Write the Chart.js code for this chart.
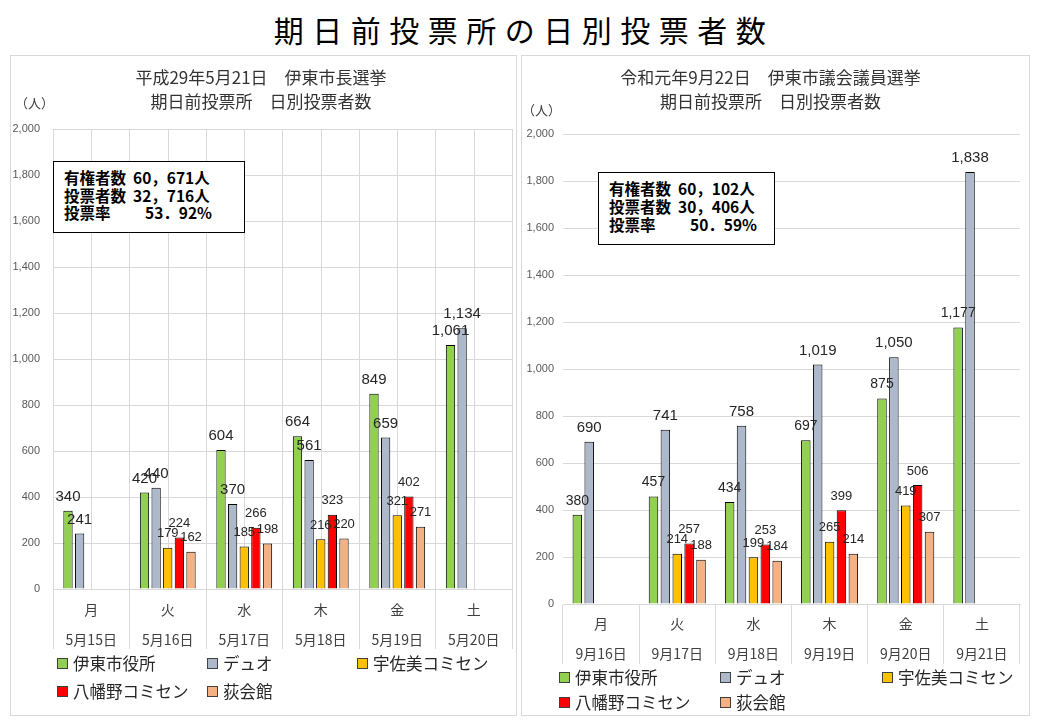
<!DOCTYPE html>
<html lang="ja">
<head>
<meta charset="utf-8">
<script src="https://cdn.jsdelivr.net/npm/chart.js@4.4.1/dist/chart.umd.min.js"></script>
<style>
  html, body { margin:0; padding:0; background:#fff; }
  body { width:1040px; height:720px; position:relative; overflow:hidden; font-family:"Noto Sans CJK JP", sans-serif; }
  #mainTitle { position:absolute; left:0; top:9px; width:1040px; text-align:center; font-size:30px; font-weight:400; letter-spacing:8.5px; line-height:40px; color:#000; padding-left:8px; box-sizing:border-box; }
  .frame { position:absolute; border:1px solid #D9D9D9; box-sizing:border-box; }
  canvas { position:absolute; }
  .unit { position:absolute; font-size:13px; color:#404040; line-height:16px; }
  .info { position:absolute; border:1px solid #000; box-sizing:border-box; font-weight:700; font-size:15.5px; color:#000; white-space:pre; background:#fff; }
  .legend-item { position:absolute; height:20px; display:flex; align-items:center; font-size:16.5px; color:#262626; white-space:nowrap; }
  .legend-item .sw { width:9px; height:9px; border:1px solid #404040; margin-right:5px; flex:none; }
</style>
</head>
<body>
<div id="mainTitle">期日前投票所の日別投票者数</div>

<div class="frame" style="left:10px;top:55px;width:507px;height:661px;"></div>
<div class="frame" style="left:521px;top:55px;width:509px;height:661px;"></div>

<canvas id="c1" width="507" height="661" style="left:10px;top:55px;"></canvas>
<canvas id="c2" width="509" height="661" style="left:521px;top:55px;"></canvas>

<div class="unit" style="left:15px;top:95px;">（人）</div>
<div class="unit" style="left:522px;top:102px;">（人）</div>

<div class="info" id="info1" style="left:53px;top:161px;width:192px;height:72px;padding:7px 0 0 10px;line-height:17.5px;"></div>
<div class="info" id="info2" style="left:598px;top:172px;width:177px;height:73px;padding:6px 0 0 10px;line-height:18px;"></div>

<div id="legend1"></div>
<div id="legend2"></div>

<script>
// ---------- data ----------
const dayLabels = ['月', '火', '水', '木', '金', '土'];
const dates1 = ['5月15日', '5月16日', '5月17日', '5月18日', '5月19日', '5月20日'];
const dates2 = ['9月16日', '9月17日', '9月18日', '9月19日', '9月20日', '9月21日'];
const seriesNames = ['伊東市役所', 'デュオ', '宇佐美コミセン', '八幡野コミセン', '荻会館'];

// 平成29年5月21日 伊東市長選挙
const cityHall1 = [340, 420, 604, 664, 849, 1061];
const duo1      = [241, 440, 370, 561, 659, 1134];
const usami1    = [null, 179, 185, 216, 321, null];
const yawatano1 = [null, 224, 266, 323, 402, null];
const ogi1      = [null, 162, 198, 220, 271, null];

// 令和元年9月22日 伊東市議会議員選挙
const cityHall2 = [380, 457, 434, 697, 875, 1177];
const duo2      = [690, 741, 758, 1019, 1050, 1838];
const usami2    = [null, 214, 199, 265, 419, null];
const yawatano2 = [null, 257, 253, 399, 506, null];
const ogi2      = [null, 188, 184, 214, 307, null];

const title1 = ['平成29年5月21日　伊東市長選挙', '期日前投票所　日別投票者数'];
const title2 = ['令和元年9月22日　伊東市議会議員選挙', '期日前投票所　日別投票者数'];
const info1 = ['有権者数  60，671人', '投票者数  32，716人', '投票率　　 53．92%'];
const info2 = ['有権者数  60，102人', '投票者数  30，406人', '投票率　　 50．59%'];

const yMin = 0, yMax = 2000, yStep = 200;

// ---------- styles ----------
const seriesColors = ['#92D050', '#ADB9CA', '#FFC000', '#FF0000', '#F4B183'];
const GRID = '#D9D9D9';

Chart.defaults.font.family = '"Noto Sans CJK JP", sans-serif';
Chart.defaults.color = '#404040';

const valueLabels = {
  id: 'valueLabels',
  afterDatasetsDraw(chart, args, opts) {
    const ctx = chart.ctx;
    ctx.save();
    ctx.textAlign = 'center';
    ctx.textBaseline = 'middle';
    ctx.fillStyle = '#262626';
    chart.data.datasets.forEach((ds, i) => {
      const meta = chart.getDatasetMeta(i);
      ctx.font = opts.sizes[i] + 'px "Liberation Sans", Arial, sans-serif';
      meta.data.forEach((bar, j) => {
        const v = ds.data[j];
        if (v === null || v === undefined) return;
        ctx.fillText(v.toLocaleString('en-US'), bar.x, bar.y - 14);
      });
    });
    ctx.restore();
  }
};

const midLines = {
  id: 'midLines',
  beforeDatasetsDraw(chart, args, opts) {
    if (!opts.enabled) return;
    const xs = chart.scales.x, area = chart.chartArea, ctx = chart.ctx;
    ctx.save();
    ctx.strokeStyle = GRID;
    ctx.lineWidth = 1;
    xs.ticks.forEach((t, i) => {
      const px = Math.round(xs.getPixelForTick(i)) + 0.5;
      ctx.beginPath();
      ctx.moveTo(px, area.top);
      ctx.lineTo(px, area.bottom);
      ctx.stroke();
    });
    ctx.restore();
  }
};

function makeChart(id, dates, series, title, cfg) {
  const labels = dayLabels.map((d, i) => [d, dates[i]]);
  const datasets = series.map((data, i) => ({
    label: seriesNames[i],
    data: data,
    backgroundColor: seriesColors[i],
    borderColor: '#000',
    borderWidth: 1,
    barPercentage: 0.8,
    categoryPercentage: cfg.catPct
  }));
  return new Chart(document.getElementById(id), {
    type: 'bar',
    data: { labels, datasets },
    plugins: [valueLabels, midLines],
    options: {
      responsive: false,
      animation: false,
      locale: 'en-US',
      layout: { padding: cfg.padding },
      plugins: {
        legend: { display: false },
        tooltip: { enabled: false },
        title: {
          display: true,
          text: title,
          color: '#333',
          font: { size: 17, weight: 'normal', lineHeight: '24px' },
          padding: cfg.titlePad
        },
        valueLabels: { sizes: cfg.labelSizes },
        midLines: { enabled: cfg.midLines }
      },
      scales: {
        x: {
          grid: {
            offset: true,
            drawOnChartArea: cfg.midLines,
            color: GRID,
            tickColor: GRID,
            tickLength: 60
          },
          border: { color: GRID },
          ticks: {
            padding: cfg.xTickPad,
            maxRotation: 0,
            autoSkip: false,
            color: '#404040',
            font: { size: 14, lineHeight: '30px' }
          },
          afterFit(s) { s.height = 60; }
        },
        y: {
          min: yMin, max: yMax,
          grid: { color: GRID, drawTicks: false },
          border: { display: false },
          ticks: {
            stepSize: yStep,
            padding: cfg.yTickPad,
            color: '#595959',
            font: { size: 11, family: '"Liberation Sans", Arial, sans-serif' }
          },
          afterFit(s) { s.width = cfg.yWidth; }
        }
      }
    }
  });
}

const chart1 = makeChart('c1', dates1, [cityHall1, duo1, usami1, yawatano1, ogi1], title1, {
  catPct: 0.76, padding: { left: 0, right: 5, top: 0, bottom: 67 },
  titlePad: { top: 11, bottom: 15 }, labelSizes: [15, 15, 13, 13, 13],
  midLines: true, xTickPad: -54, yTickPad: 13, yWidth: 43
});
const chart2 = makeChart('c2', dates2, [cityHall2, duo2, usami2, yawatano2, ogi2], title2, {
  catPct: 0.78, padding: { left: 0, right: 10, top: 0, bottom: 52 },
  titlePad: { top: 11, bottom: 20 }, labelSizes: [14, 15, 13, 13, 13],
  midLines: false, xTickPad: -55, yTickPad: 9, yWidth: 42
});

document.getElementById('info1').textContent = info1.join('\n');
document.getElementById('info2').textContent = info2.join('\n');

function buildLegend(containerId, chart, positions) {
  const el = document.getElementById(containerId);
  chart.data.datasets.forEach((ds, i) => {
    const item = document.createElement('div');
    item.className = 'legend-item';
    item.style.left = positions[i][0] + 'px';
    item.style.top = (positions[i][1] - 10) + 'px';
    const sw = document.createElement('span');
    sw.className = 'sw';
    sw.style.background = ds.backgroundColor;
    const tx = document.createElement('span');
    tx.textContent = ds.label;
    item.appendChild(sw);
    item.appendChild(tx);
    el.appendChild(item);
  });
}
buildLegend('legend1', chart1, [[57, 663], [207, 663], [357, 663], [57, 691], [207, 691]]);
buildLegend('legend2', chart2, [[559, 677], [720, 677], [882, 677], [559, 702], [720, 702]]);
</script>
</body>
</html>
